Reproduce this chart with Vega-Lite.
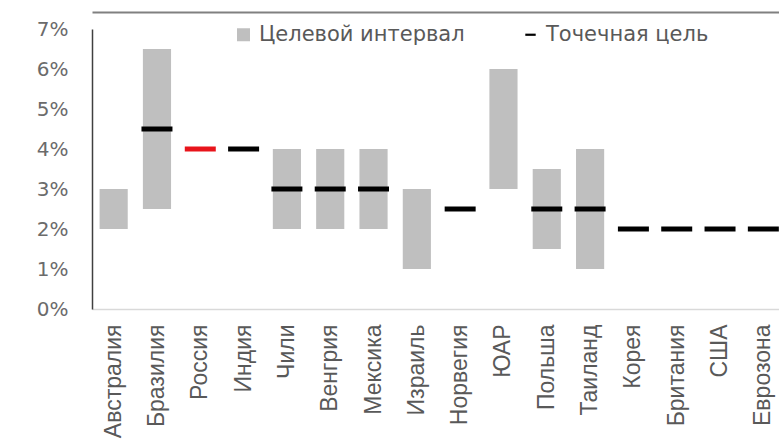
{
  "$schema": "https://vega.github.io/schema/vega-lite/v6.json",
  "width": 693,
  "height": 280,
  "autosize": {"type": "none"},
  "padding": {"left": 92, "top": 29, "right": 0, "bottom": 136},
  "background": "white",
  "config": {"view": {"stroke": null}, "font": "Liberation Sans"},
  "data": {
    "values": [
      {"country": "Австралия", "series": "Целевой интервал", "lo": 0.02, "hi": 0.03},
      {"country": "Бразилия", "series": "Целевой интервал", "lo": 0.025, "hi": 0.065},
      {"country": "Бразилия", "series": "Точечная цель", "value": 0.045},
      {"country": "Россия", "series": "Россия", "value": 0.04},
      {"country": "Индия", "series": "Точечная цель", "value": 0.04},
      {"country": "Чили", "series": "Целевой интервал", "lo": 0.02, "hi": 0.04},
      {"country": "Чили", "series": "Точечная цель", "value": 0.03},
      {"country": "Венгрия", "series": "Целевой интервал", "lo": 0.02, "hi": 0.04},
      {"country": "Венгрия", "series": "Точечная цель", "value": 0.03},
      {"country": "Мексика", "series": "Целевой интервал", "lo": 0.02, "hi": 0.04},
      {"country": "Мексика", "series": "Точечная цель", "value": 0.03},
      {"country": "Израиль", "series": "Целевой интервал", "lo": 0.01, "hi": 0.03},
      {"country": "Норвегия", "series": "Точечная цель", "value": 0.025},
      {"country": "ЮАР", "series": "Целевой интервал", "lo": 0.03, "hi": 0.06},
      {"country": "Польша", "series": "Целевой интервал", "lo": 0.015, "hi": 0.035},
      {"country": "Польша", "series": "Точечная цель", "value": 0.025},
      {"country": "Таиланд", "series": "Целевой интервал", "lo": 0.01, "hi": 0.04},
      {"country": "Таиланд", "series": "Точечная цель", "value": 0.025},
      {"country": "Корея", "series": "Точечная цель", "value": 0.02},
      {"country": "Британия", "series": "Точечная цель", "value": 0.02},
      {"country": "США", "series": "Точечная цель", "value": 0.02},
      {"country": "Еврозона", "series": "Точечная цель", "value": 0.02}
    ]
  },
  "resolve": {"axis": {"x": "independent"}},
  "layer": [
    {
      "transform": [{"filter": "datum.series === 'Целевой интервал'"}],
      "mark": {"type": "bar", "color": "#BFBFBF", "opacity": 1},
      "encoding": {
        "x": {
          "field": "country", "type": "nominal",
          "sort": ["Австралия","Бразилия","Россия","Индия","Чили","Венгрия","Мексика","Израиль","Норвегия","ЮАР","Польша","Таиланд","Корея","Британия","США","Еврозона"],
          "scale": {"paddingInner": 0.35, "paddingOuter": 0.175},
          "axis": {"title": null, "orient": "bottom", "labelAngle": 270, "labelAlign": "right", "labelBaseline": "middle", "labelFont": "Liberation Sans", "labelFontSize": 23, "labelColor": "#595959", "labelPadding": 15, "labelLimit": 200, "ticks": false, "domainColor": "#D9D9D9", "domainWidth": 1.5}
        },
        "y": {
          "field": "lo", "type": "quantitative",
          "scale": {"domain": [0, 0.07], "nice": false},
          "axis": {"title": null, "format": ".0%", "values": [0, 0.01, 0.02, 0.03, 0.04, 0.05, 0.06, 0.07], "tickCount": 8, "labelOverlap": false, "grid": false, "ticks": false, "domainColor": "#404040", "domainWidth": 1.5, "labelFont": "DejaVu Sans", "labelFontSize": 20, "labelColor": "#6b6b6b", "labelPadding": 24}
        },
        "y2": {"field": "hi"},
        "color": {
          "field": "series", "type": "nominal",
          "scale": {"domain": ["Целевой интервал", "Точечная цель", "Россия"], "range": ["#BFBFBF", "#000000", "#E8141B"]},
          "legend": {
            "title": null, "orient": "none", "legendX": 141, "legendY": -5, "direction": "horizontal",
            "values": ["Целевой интервал", "Точечная цель"],
            "labelFont": "DejaVu Sans", "labelFontSize": 21, "labelColor": "#595959", "labelLimit": 400,
            "symbolSize": 169, "symbolStrokeWidth": 0, "symbolOpacity": 1, "columnPadding": 55, "labelOffset": 5,
            "encode": {"symbols": {"update": {"shape": {"signal": "datum.value === 'Точечная цель' ? 'M-0.8,-0.17H0.8V0.17H-0.8Z' : 'square'"}}}}
          }
        }
      }
    },
    {
      "transform": [{"filter": "datum.series !== 'Целевой интервал'"}],
      "mark": {"type": "tick", "thickness": 5, "size": 31, "opacity": 1},
      "encoding": {
        "x": {
          "field": "country", "type": "nominal",
          "sort": ["Австралия","Бразилия","Россия","Индия","Чили","Венгрия","Мексика","Израиль","Норвегия","ЮАР","Польша","Таиланд","Корея","Британия","США","Еврозона"],
          "axis": {"title": null, "orient": "top", "labels": false, "ticks": false, "domainColor": "#808080", "domainWidth": 2, "offset": 17}
        },
        "y": {
          "field": "value", "type": "quantitative",
          "axis": {"title": null, "format": ".0%", "values": [0, 0.01, 0.02, 0.03, 0.04, 0.05, 0.06, 0.07], "tickCount": 8, "labelOverlap": false, "grid": false, "ticks": false, "domainColor": "#404040", "domainWidth": 1.5, "labelFont": "DejaVu Sans", "labelFontSize": 20, "labelColor": "#6b6b6b", "labelPadding": 24}
        },
        "color": {"field": "series", "type": "nominal"}
      }
    }
  ]
}
